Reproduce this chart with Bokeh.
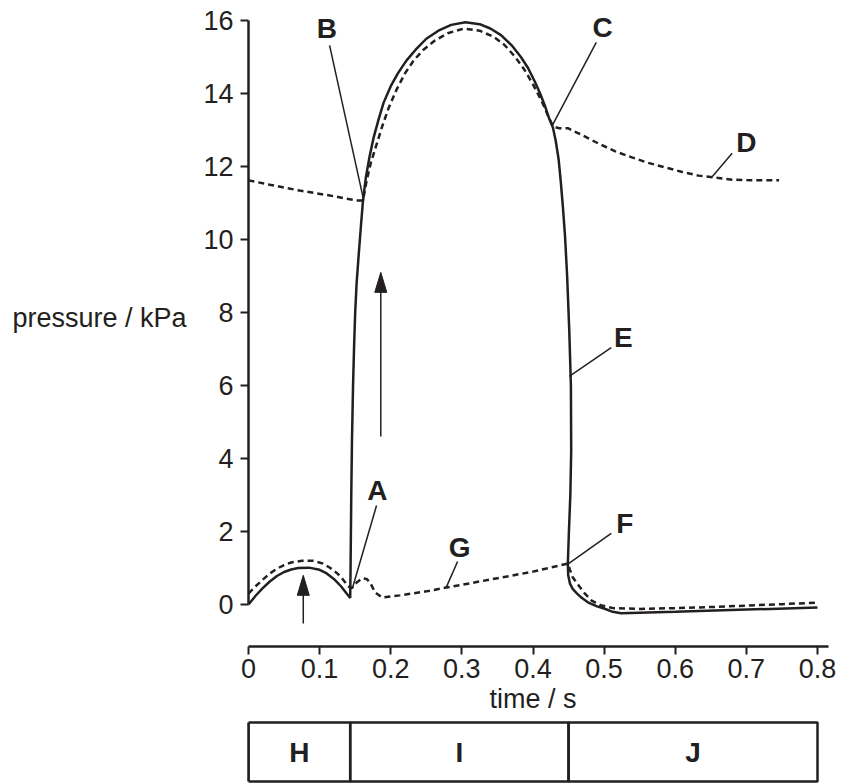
from bokeh.plotting import figure
from bokeh.models import Range1d, LinearAxis, FixedTicker, Title
from bokeh.layouts import column, row
from bokeh.embed import file_html
from bokeh.resources import INLINE
from bokeh.core.properties import value

INK = "#231f20"
FONT = "Liberation Sans"
TICK_FS = "27px"
LETTER_FS = "28px"

# ---------------- data ----------------
# ventricular pressure (solid line)
vent_t = [0, 0.01, 0.02, 0.03, 0.04, 0.05, 0.06, 0.07, 0.085, 0.1, 0.11, 0.12, 0.13, 0.138, 0.143,
          0.1435, 0.1445, 0.1455, 0.147, 0.1485, 0.150, 0.152, 0.155, 0.158, 0.161, 0.165, 0.170,
          0.176, 0.183, 0.19, 0.2, 0.21, 0.222, 0.235, 0.25, 0.267, 0.285, 0.305, 0.325, 0.34,
          0.355, 0.37, 0.383, 0.393, 0.402, 0.41, 0.417, 0.423, 0.428, 0.432, 0.436, 0.439,
          0.442, 0.445, 0.448, 0.451, 0.4533, 0.4537, 0.4525, 0.4505, 0.449, 0.4495, 0.452,
          0.456, 0.462, 0.468, 0.478, 0.49, 0.5, 0.512, 0.524, 0.6, 0.7, 0.8]
vent_p = [0, 0.24, 0.45, 0.63, 0.78, 0.89, 0.96, 1.0, 1.01, 0.95, 0.85, 0.7, 0.5, 0.3, 0.18,
          1.0, 3.0, 4.5, 6.0, 7.1, 8.0, 8.8, 9.6, 10.35, 11.07, 11.7, 12.25,
          12.8, 13.3, 13.75, 14.2, 14.55, 14.9, 15.2, 15.5, 15.72, 15.88, 15.95, 15.9, 15.78,
          15.6, 15.32, 15.0, 14.7, 14.35, 14.0, 13.65, 13.3, 13.07, 12.7, 12.2, 11.6,
          10.9, 10.1, 9.0, 7.5, 6.0, 4.2, 3.0, 2.0, 1.12, 0.8, 0.57,
          0.42, 0.3, 0.19, 0.05, -0.05, -0.11, -0.2, -0.24, -0.2, -0.14, -0.08]

# aortic pressure (upper dashed line)
aorta_t = [0, 0.03, 0.072, 0.11, 0.152, 0.161, 0.166, 0.172, 0.18, 0.188, 0.197, 0.208, 0.22,
           0.232, 0.246, 0.262, 0.28, 0.303, 0.325, 0.345, 0.36, 0.375, 0.388, 0.4, 0.412,
           0.421, 0.428, 0.433, 0.437, 0.449, 0.47, 0.492, 0.515, 0.539, 0.562, 0.585, 0.61,
           0.633, 0.655, 0.68, 0.71, 0.746]
aorta_p = [11.62, 11.5, 11.34, 11.22, 11.07, 11.07, 11.6, 12.1, 12.6, 13.1, 13.6, 14.1, 14.55,
           14.9, 15.2, 15.45, 15.65, 15.78, 15.72, 15.55, 15.33, 15.0, 14.65, 14.25, 13.8,
           13.4, 13.1, 13.07, 13.05, 13.05, 12.85, 12.63, 12.42, 12.25, 12.1, 11.98, 11.85,
           11.75, 11.7, 11.64, 11.62, 11.62]

# atrial pressure (lower dashed line)
atrium_t = [0, 0.01, 0.02, 0.03, 0.04, 0.05, 0.06, 0.075, 0.09, 0.105, 0.115, 0.125, 0.133, 0.14,
            0.145, 0.152, 0.16, 0.166, 0.171, 0.178, 0.188, 0.213, 0.25, 0.28, 0.3, 0.35, 0.4,
            0.449, 0.452, 0.456, 0.465, 0.472, 0.482, 0.495, 0.513, 0.55, 0.6, 0.65, 0.7, 0.75, 0.8]
atrium_p = [0.3, 0.5, 0.68, 0.85, 0.98, 1.08, 1.15, 1.2, 1.2, 1.12, 1.0, 0.85, 0.68, 0.5,
            0.45, 0.6, 0.72, 0.7, 0.6, 0.33, 0.19, 0.25, 0.36, 0.47, 0.54, 0.72, 0.9,
            1.12, 0.95, 0.74, 0.5, 0.32, 0.11, -0.02, -0.1, -0.12, -0.1, -0.07, -0.03, 0.01, 0.05]

y_ticks = [0, 2, 4, 6, 8, 10, 12, 14, 16]
x_ticks = [0, 0.1, 0.2, 0.3, 0.4, 0.5, 0.6, 0.7, 0.8]
x_tick_labels = ["0", "0.1", "0.2", "0.3", "0.4", "0.5", "0.6", "0.7", "0.8"]
y_title = "pressure / kPa"
x_title = "time / s"

# phases of the cycle (table under the time axis)
phase_names = ["H", "I", "J"]
phase_start = [0, 0.143, 0.45]
phase_end = [0.143, 0.45, 0.8]

# point labels and their leader lines (annotation anchors)
point_names = ["A", "B", "C", "D", "E", "F", "G"]
point_lx = [0.181, 0.110, 0.498, 0.700, 0.527, 0.529, 0.297]
point_ly = [3.12, 15.78, 15.8, 12.66, 7.32, 2.22, 1.56]
lead_x0 = [0.180, 0.114, 0.489, 0.680, 0.510, 0.510, 0.294]
lead_y0 = [2.71, 15.32, 15.4, 12.36, 7.04, 1.95, 1.18]
lead_x1 = [0.146, 0.162, 0.427, 0.651, 0.451, 0.450, 0.278]
lead_y1 = [0.44, 11.07, 13.12, 11.7, 6.25, 1.12, 0.47]

# arrows
arrow_x = [0.077, 0.186]
arrow_y0 = [-0.52, 4.6]
arrow_y1 = [0.8, 9.1]

# ---------------- layout constants (pixels) ----------------
TOTAL_W, TOTAL_H = 841, 783
LW = 190                      # column holding the vertical-axis title
W = TOTAL_W - LW
ORIGIN_PX = 248               # absolute x of t = 0
LEFT = ORIGIN_PX - LW
FRAME_W = W - LEFT
PX_PER_X = 711.25
X_START = 0.0
X_END = X_START + FRAME_W / PX_PER_X
PX_PER_Y = 36.5
TOP = 8
Y16_PX = 20                   # absolute y of p = 16
AXIS_PX = 646                 # absolute y of the time axis
FRAME_H = AXIS_PX - TOP
Y_END = 16 + (Y16_PX - TOP) / PX_PER_Y
Y_START = Y_END - FRAME_H / PX_PER_Y
H1 = 718
BOTTOM1 = H1 - AXIS_PX
X_TITLE_AT = 0.4              # the time title is centred under this tick
X_TITLE_W = 87                # approximate rendered width of the time title, px

# --- left column: axis title ---
lab = figure(width=LW, height=TOTAL_H, x_range=Range1d(0, LW), y_range=Range1d(TOTAL_H, 0),
             output_backend="svg", toolbar_location=None, x_axis_type=None, y_axis_type=None,
             min_border=0)
lab.outline_line_color = None
lab.grid.visible = False
lab.text([12], [317], text=[y_title], text_font=value(FONT), text_font_size=value(TICK_FS),
         text_color=INK, text_align="left", text_baseline="middle")

# --- main chart ---
p = figure(width=W, height=H1, x_range=Range1d(X_START, X_END), y_range=Range1d(Y_START, Y_END),
           output_backend="svg", toolbar_location=None, x_axis_type=None, y_axis_type=None,
           min_border_left=LEFT, min_border_right=0, min_border_top=TOP, min_border_bottom=BOTTOM1)
p.outline_line_color = None
p.grid.visible = False

yaxis = LinearAxis(bounds=(0, 16), ticker=FixedTicker(ticks=y_ticks, minor_ticks=[]))
xaxis = LinearAxis(bounds=(0, 0.815), ticker=FixedTicker(ticks=x_ticks, minor_ticks=[]),
                   major_label_overrides={t: s for t, s in zip(x_ticks, x_tick_labels)})
for ax in (yaxis, xaxis):
    ax.axis_line_color = INK
    ax.axis_line_width = 2.5
    ax.major_tick_line_color = INK
    ax.major_tick_line_width = 2
    ax.major_tick_out = 8
    ax.major_tick_in = 0
    ax.minor_tick_line_color = None
    ax.major_label_text_font = FONT
    ax.major_label_text_font_size = TICK_FS
    ax.major_label_text_color = INK
yaxis.major_label_standoff = 7
xaxis.major_label_standoff = 4
p.add_layout(yaxis, "left")
p.add_layout(xaxis, "below")

title_offset = (X_TITLE_AT - X_START) * PX_PER_X - X_TITLE_W / 2
p.add_layout(Title(text=x_title, align="left", offset=title_offset, standoff=3,
                   text_font=FONT, text_font_size=TICK_FS, text_font_style="normal",
                   text_color=INK), "below")

p.line(vent_t, vent_p, line_color=INK, line_width=2.5)
p.line(aorta_t, aorta_p, line_color=INK, line_width=2.5, line_dash="6 4")
p.line(atrium_t, atrium_p, line_color=INK, line_width=2.5, line_dash="6 4")

p.segment(lead_x0, lead_y0, lead_x1, lead_y1, line_color=INK, line_width=1.5)
p.text(point_lx, point_ly, text=point_names, text_font=value(FONT), text_font_style="bold",
       text_font_size=value(LETTER_FS), text_color=INK, text_align="center", text_baseline="middle")

head_len = 20 / PX_PER_Y
head_half = 6 / PX_PER_X
p.segment(arrow_x, arrow_y0, arrow_x, [y - head_len * 0.8 for y in arrow_y1], line_color=INK, line_width=1.5)
p.patches([[x - head_half, x, x + head_half] for x in arrow_x],
          [[y - head_len, y, y - head_len] for y in arrow_y1],
          fill_color=INK, line_color=INK, line_width=1)

# --- phase table ---
H2 = TOTAL_H - H1
BOX_TOP_PX, BOX_BOTTOM_PX = 722, 781
BOX_H = BOX_BOTTOM_PX - BOX_TOP_PX
Y2_START = -(TOTAL_H - BOX_BOTTOM_PX) / BOX_H
Y2_END = Y2_START + H2 / BOX_H

b = figure(width=W, height=H2, x_range=Range1d(X_START, X_END), y_range=Range1d(Y2_START, Y2_END),
           output_backend="svg", toolbar_location=None, x_axis_type=None, y_axis_type=None,
           min_border_left=LEFT, min_border_right=0, min_border_top=0, min_border_bottom=0)
b.outline_line_color = None
b.grid.visible = False
# the table's left edge sits on the frame edge: draw it as a bounded axis line
edge = LinearAxis(bounds=(0, 1), ticker=FixedTicker(ticks=[], minor_ticks=[]),
                  axis_line_color=INK, axis_line_width=2.5, major_tick_line_color=None,
                  minor_tick_line_color=None, major_label_text_font_size="0px")
b.add_layout(edge, "left")
b.quad(left=phase_start, right=phase_end, bottom=0, top=1, fill_color=None,
       line_color=INK, line_width=2.5)
b.text([(s + e) / 2 for s, e in zip(phase_start, phase_end)], [0.5] * 3, text=phase_names,
       text_font=value(FONT), text_font_style="bold", text_font_size=value(LETTER_FS),
       text_color=INK, text_align="center", text_baseline="middle")

layout = row(lab, column(p, b, spacing=0), spacing=0)
open("out.html", "w").write(file_html(layout, INLINE))
